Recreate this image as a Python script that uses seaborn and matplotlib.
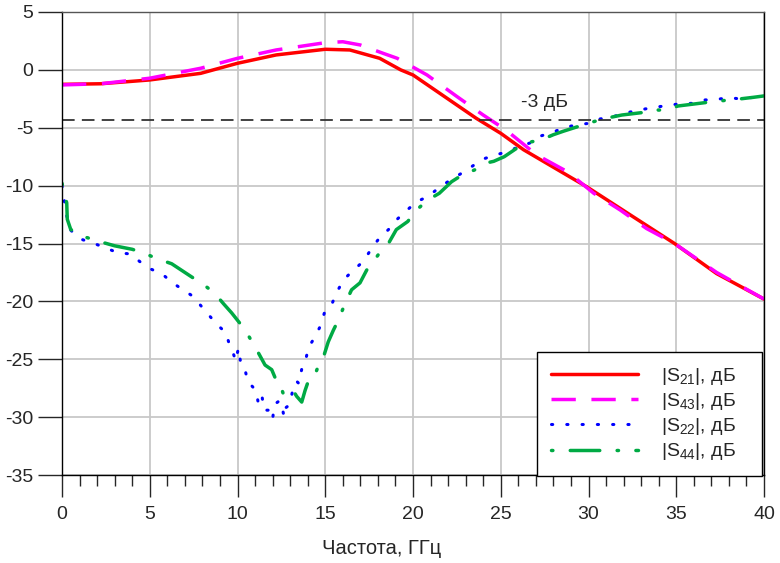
import numpy as np
import pandas as pd
import matplotlib
matplotlib.use("Agg")
import matplotlib.pyplot as plt
import seaborn as sns
from matplotlib.ticker import MultipleLocator

# ---- data (GHz, dB) ----
f21 = [0, 2.2, 5.0, 7.9, 10.0, 12.2, 15.0, 16.4, 18.1, 19.3, 20.0, 23.6, 25.0, 26.3, 29.9, 34.9, 37.3, 40.0]
s21 = [-1.25, -1.2, -0.87, -0.3, 0.57, 1.29, 1.78, 1.72, 1.0, 0.0, -0.44, -4.18, -5.48, -6.9, -10.1, -15.0, -17.6, -19.8]

f43 = [0, 2.2, 5.0, 7.9, 10.0, 12.2, 15.0, 16.0, 17.0, 18.3, 19.1, 20.8, 22.5, 24.0, 25.3, 27.05, 28.8, 30.3, 31.8, 33.3, 34.9, 37.3, 40.0]
s43 = [-1.3, -1.2, -0.72, 0.14, 1.0, 1.72, 2.35, 2.43, 2.15, 1.43, 1.0, -0.44, -2.3, -3.9, -5.2, -7.35, -8.8, -10.66, -12.1, -13.7, -15.0, -17.5, -19.8]

f22 = [0, 0.27, 0.46, 1.03, 1.84, 2.5, 3.2, 3.87, 4.44, 5.0, 5.68, 6.3, 6.9, 7.5, 7.98, 8.49, 8.9, 9.34,
       9.57, 9.76, 9.9, 10.05, 10.18, 10.4, 10.58, 11.05, 11.2, 11.4, 11.5, 11.8, 12.0, 12.1, 12.38, 12.5,
       12.65, 12.74, 13.0, 13.18, 13.37, 13.5, 13.66, 13.85, 14.04, 14.4, 14.7, 14.95, 15.33, 15.65, 16.03,
       16.5, 16.98, 17.36, 17.65, 18.1, 18.6, 19.1, 19.6, 20.2, 20.9, 21.5, 22.2, 22.8, 23.4, 24.0, 24.6,
       25.06, 25.5, 26.1, 26.7, 27.3, 27.96, 28.57, 29.3, 30.1, 30.66, 31.4, 32.2, 32.9, 33.6, 34.3, 35.1,
       35.9, 36.6, 37.3, 38.0, 38.6, 39.4, 40.0]
s22 = [-10.0, -12.6, -13.8, -14.6, -15.0, -15.4, -15.8, -15.9, -16.57, -17.17, -17.6, -18.4, -19.0, -19.6, -20.5, -21.4, -22.1, -22.7,
       -23.9, -24.5, -25.15, -24.05, -25.3, -25.7, -26.9, -27.7, -28.9, -28.2, -29.4, -29.4, -30.2, -28.9, -28.6, -28.7,
       -30.0, -29.2, -28.9, -27.3, -26.9, -27.1, -25.85, -25.3, -24.0, -23.1, -22.2, -21.0, -20.4, -19.25, -18.15,
       -17.46, -16.8, -16.1, -15.4, -14.5, -13.8, -12.9, -12.2, -11.4, -10.9, -10.15, -9.45, -8.9, -8.3, -7.7, -7.4,
       -7.2, -6.98, -6.6, -6.3, -5.7, -5.4, -5.0, -4.76, -4.6, -4.24, -4.04, -3.7, -3.47, -3.27, -3.12, -2.95,
       -2.89, -2.6, -2.55, -2.4, -2.5, -2.37, -2.25]

f44 = [0, 0.27, 0.3, 0.5, 1.2, 1.56, 2.3, 3.0, 4.0, 4.7, 5.4, 6.25, 6.9, 7.6, 8.15, 8.7, 9.2, 9.67, 10.14,
       10.6, 11.1, 11.57, 11.95, 12.2, 12.37, 12.6, 12.8, 13.09, 13.37, 13.66, 13.85, 14.1, 14.4, 14.7, 14.9,
       15.17, 15.46, 15.75, 16.1, 16.5, 16.98, 17.36, 17.7, 18.1, 18.6, 19.05, 19.7, 20.2, 20.85, 21.5, 22.2,
       22.8, 23.5, 24.1, 24.6, 25.2, 25.9, 26.3, 27.3, 28.0, 28.57, 29.5, 30.3, 31.0, 31.9, 33.0, 33.6, 34.4,
       35.1, 35.9, 36.8, 37.7, 38.4, 39.4, 40.0]
s44 = [-9.8, -11.5, -12.9, -13.8, -14.4, -14.55, -14.9, -15.2, -15.5, -15.85, -16.3, -16.75, -17.4, -18.1, -18.65, -19.3, -20.2, -21.0, -21.9,
       -22.9, -24.2, -25.5, -25.9, -26.8, -26.9, -27.95, -27.8, -27.5, -28.2, -28.7, -27.7, -26.6, -26.4, -25.2, -24.8,
       -23.5, -22.5, -21.6, -20.3, -19.0, -18.4, -17.3, -16.65, -15.8, -15.0, -13.8, -13.1, -12.1, -11.24, -10.66, -9.66,
       -9.08, -8.65, -8.07, -7.9, -7.5, -6.78, -6.35, -6.05, -5.6, -5.3, -4.85, -4.47, -4.18, -3.9, -3.7, -3.47, -3.47,
       -3.12, -2.97, -2.8, -2.65, -2.55, -2.37, -2.25]

level_3db = -4.3
labels = ["|S$_{21}$|, дБ", "|S$_{43}$|, дБ", "|S$_{22}$|, дБ", "|S$_{44}$|, дБ"]

# ---- style ----
sns.set_style("white")
plt.rcParams['font.family'] = ['Liberation Sans', 'DejaVu Sans']
plt.rcParams['mathtext.fontset'] = 'custom'
plt.rcParams['mathtext.rm'] = 'Liberation Sans'
plt.rcParams['mathtext.it'] = 'Liberation Sans'
plt.rcParams['axes.unicode_minus'] = False

fig = plt.figure(figsize=(7.8, 5.63), dpi=100)
ax = fig.add_axes([62/780, 1-475/563, 702/780, 463/563])

sns.lineplot(x=f21, y=s21, ax=ax, color="#ff0000", lw=2.5, label=labels[0])
sns.lineplot(x=f43, y=s43, ax=ax, color="#ff00ff", lw=2.5, label=labels[1],
             linestyle=(0, (7, 4.5)))
sns.lineplot(x=f22, y=s22, ax=ax, color="#0000ff", lw=2.2, label=labels[2],
             linestyle=(0, (0.4, 4.6)), dash_capstyle='round')
sns.lineplot(x=f44, y=s44, ax=ax, color="#00aa44", lw=2.5, label=labels[3],
             linestyle=(0, (0.4, 5, 8.5, 5)), dash_capstyle='round')

ax.axhline(level_3db, xmin=0, xmax=1, color="#333333", lw=1.3, linestyle=(0, (7, 4)))
ax.text(27.5, -2.8, "-3 дБ", fontsize=14, ha="center", va="center")

ax.set_xlim(0, 40)
ax.set_ylim(-35, 5)
ax.xaxis.set_major_locator(MultipleLocator(5))
ax.xaxis.set_minor_locator(MultipleLocator(1))
ax.yaxis.set_major_locator(MultipleLocator(5))
ax.grid(True, which="major", color="#c8c8c8", lw=1.3)
ax.tick_params(axis="x", which="major", length=16, width=1, direction="out", labelsize=14, pad=6, bottom=True)
ax.tick_params(axis="x", which="minor", length=8, width=1, direction="out", bottom=True)
ax.tick_params(axis="y", which="major", length=17, width=1, direction="out", labelsize=14, pad=3.5, left=True)
for sp in ax.spines.values():
    sp.set_color("black")
    sp.set_linewidth(1)
ax.spines["top"].set_color("#555555")

ax.set_xlabel("Частота, ГГц", fontsize=14.5)
ax.xaxis.set_label_coords((382-62)/702, (475-548)/463)
ax.xaxis.label.set_va("center")
ax.set_ylabel("")

leg = ax.legend(loc="upper left", bbox_to_anchor=(537/780, 90/563, 225/780, 121/563),
                bbox_transform=fig.transFigure, mode="expand",
                fontsize=14, frameon=True, fancybox=False, edgecolor="black", framealpha=1,
                handlelength=4.5, handletextpad=1.2, labelspacing=0.22, borderpad=0.7,
                borderaxespad=0)
leg.get_frame().set_linewidth(1)
leg.set_zorder(10)

fig.savefig("out.png", dpi=100)
